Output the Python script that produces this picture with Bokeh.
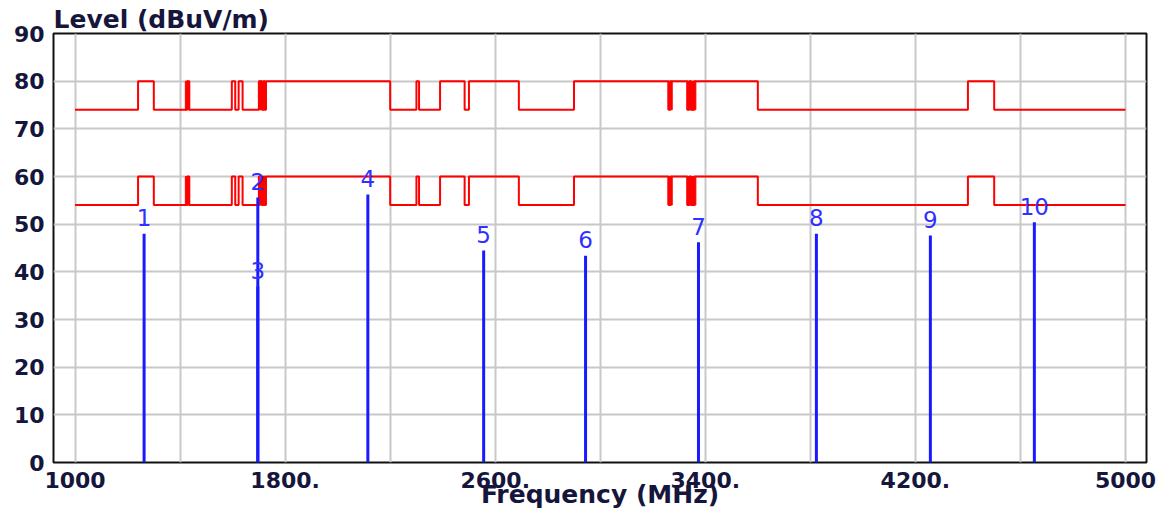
from bokeh.plotting import figure
from bokeh.models import Range1d, FixedTicker, ColumnDataSource
from bokeh.core.properties import value
from bokeh.embed import file_html
from bokeh.resources import INLINE

# ---- data ----
# limit-line band edges (MHz); each interval between edges has one level
limit_edges = [1000, 1240, 1300, 1427, 1435, 1597, 1610, 1623, 1638, 1700, 1712,
               1718, 1722, 1727, 2200, 2300, 2310, 2390, 2483.5, 2500, 2690, 2900,
               3260, 3267, 3332, 3339, 3345.8, 3358, 3600, 4400, 4500, 5000]
upper_limit = [74, 80, 74, 80, 74, 80, 74, 80, 74, 80, 74, 80, 74, 80, 74, 80,
               74, 80, 74, 80, 74, 80, 74, 80, 74, 80, 74, 80, 74, 80, 74]
lower_limit = [54, 60, 54, 60, 54, 60, 54, 60, 54, 60, 54, 60, 54, 60, 54, 60,
               54, 60, 54, 60, 54, 60, 54, 60, 54, 60, 54, 60, 54, 60, 54]
# narrow bands where the limit line toggles so densely it renders as a solid block
dense_left = [1420, 1700, 3258, 3330]
dense_right = [1436, 1727, 3274, 3364]
upper_low, upper_high = 74, 80
lower_low, lower_high = 54, 60

marker_ids = ["1", "2", "3", "4", "5", "6", "7", "8", "9", "10"]
marker_freq = [1263, 1696, 1696, 2115, 2556, 2944, 3374, 3823, 4257, 4653]
marker_level = [48.0, 55.6, 36.9, 56.2, 44.5, 43.4, 46.2, 48.0, 47.6, 50.4]

x_tick_vals = [1000, 1800, 2600, 3400, 4200, 5000]
x_tick_text = ["1000", "1800.", "2600.", "3400.", "4200.", "5000"]
x_grid_vals = [1000, 1400, 1800, 2200, 2600, 3000, 3400, 3800, 4200, 4600, 5000]
y_tick_vals = [0, 10, 20, 30, 40, 50, 60, 70, 80, 90]

TXT = "#16163c"
RED = "#ff0000"

p = figure(width=1172, height=511, x_range=Range1d(918, 5080), y_range=Range1d(0, 90),
           output_backend="svg", toolbar_location=None,
           min_border_left=53, min_border_right=26, min_border_top=33, min_border_bottom=49)
p.background_fill_color = "white"
p.border_fill_color = "white"
p.outline_line_color = "#111111"
p.outline_line_width = 2

# grid
p.xgrid.ticker = FixedTicker(ticks=x_grid_vals)
p.ygrid.ticker = FixedTicker(ticks=y_tick_vals)
for g in (p.xgrid, p.ygrid):
    g.grid_line_color = "#c8c8c8"
    g.grid_line_width = 2

# axes
p.xaxis.ticker = FixedTicker(ticks=x_tick_vals)
p.xaxis.major_label_overrides = {v: t for v, t in zip(x_tick_vals, x_tick_text)}
p.yaxis.ticker = FixedTicker(ticks=y_tick_vals)
for ax in (p.xaxis, p.yaxis):
    ax.axis_line_color = None
    ax.major_tick_line_color = None
    ax.minor_tick_line_color = None
    ax.major_label_text_font = "DejaVu Sans"
    ax.major_label_text_font_style = "bold"
    ax.major_label_text_font_size = "22px"
    ax.major_label_text_color = TXT
p.xaxis.major_label_standoff = 3
p.yaxis.major_label_standoff = 3
p.xaxis.axis_label = "Frequency (MHz)"
p.xaxis.axis_label_text_font = "DejaVu Sans"
p.xaxis.axis_label_text_font_style = "bold"
p.xaxis.axis_label_text_font_size = "25px"
p.xaxis.axis_label_text_color = TXT
p.xaxis.axis_label_standoff = -11

p.title.text = "Level (dBuV/m)"
p.title.align = "left"
p.title.text_font = "DejaVu Sans"
p.title.text_font_style = "bold"
p.title.text_font_size = "25px"
p.title.text_color = TXT
p.title.standoff = 0

# limit lines
p.step(limit_edges, upper_limit + [upper_limit[-1]], mode="after", line_color=RED, line_width=2)
p.step(limit_edges, lower_limit + [lower_limit[-1]], mode="after", line_color=RED, line_width=2)
p.quad(left=dense_left, right=dense_right, bottom=upper_low, top=upper_high,
       fill_color=RED, line_color=RED, line_width=1)
p.quad(left=dense_left, right=dense_right, bottom=lower_low, top=lower_high,
       fill_color=RED, line_color=RED, line_width=1)

# markers
src = ColumnDataSource(dict(f=marker_freq, lvl=marker_level, zero=[0] * len(marker_freq), lab=marker_ids))
p.segment(x0="f", y0="zero", x1="f", y1="lvl", source=src, line_color="#1a1aff", line_width=3)
p.text(x="f", y="lvl", text="lab", source=src, text_align="center", text_baseline="middle",
       y_offset=-16, text_font=value("DejaVu Sans"), text_font_size="23px", text_color="#3030ff")

open("out.html", "w").write(file_html(p, INLINE))
